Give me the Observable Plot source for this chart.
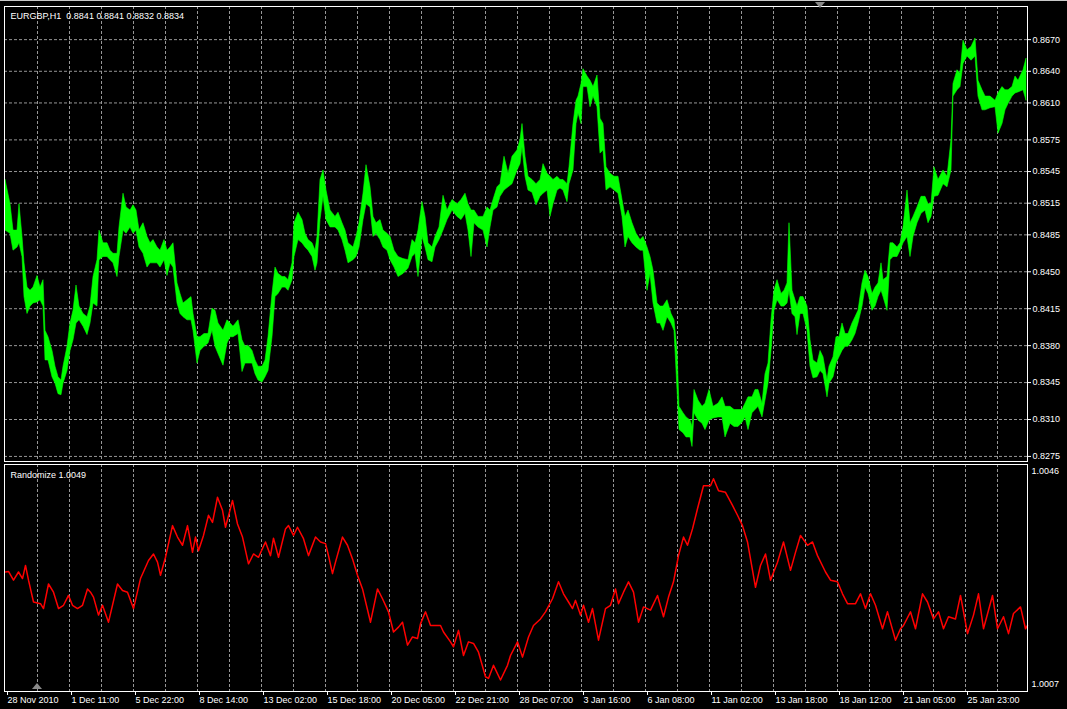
<!DOCTYPE html>
<html><head><meta charset="utf-8">
<script src="https://cdn.jsdelivr.net/npm/d3@7"></script>
<script src="https://cdn.jsdelivr.net/npm/@observablehq/plot@0.6"></script>
<style>
html,body{margin:0;padding:0;background:#000;overflow:hidden;}
#wrap{position:relative;width:1067px;height:709px;background:#000;}
#top,#bottom{position:absolute;left:0;}
#top{top:0}
#bottom{top:463px}
#topline{position:absolute;left:0;top:0;width:1067px;height:1px;background:#c8c8c8;}
.tri-down{position:absolute;left:815px;top:2px;width:0;height:0;border-left:5px solid transparent;border-right:5px solid transparent;border-top:6px solid #8a8a8a;}
.tri-up{position:absolute;left:32px;top:683px;width:0;height:0;border-left:5px solid transparent;border-right:5px solid transparent;border-bottom:6px solid #8a8a8a;}
</style></head><body>
<div id="wrap"><div id="top"></div><div id="bottom"></div><div id="topline"></div><div class="tri-down"></div><div class="tri-up"></div></div>
<script>
// ---- data ----
const priceTicks = [0.8670, 0.8640, 0.8610, 0.8575, 0.8545, 0.8515, 0.8485, 0.8450, 0.8415, 0.8380, 0.8345, 0.8310, 0.8275];
const indicatorTicks = [1.0046, 1.0007];
const timeLabels = ["28 Nov 2010","1 Dec 11:00","5 Dec 22:00","8 Dec 14:00","13 Dec 02:00","15 Dec 18:00","20 Dec 05:00","22 Dec 21:00","28 Dec 07:00","3 Jan 16:00","6 Jan 08:00","11 Jan 02:00","13 Jan 18:00","18 Jan 12:00","21 Jan 05:00","25 Jan 23:00"];
const timeBars = [0,64,128,192,256,320,384,448,512,576,640,704,768,832,896,960];
const gridBars = [32,64,96,128,160,192,224,256,288,320,352,384,416,448,480,512,544,576,608,640,672,704,736,768,800,832,864,896,928,960,992];
const chartTitle = "EURGBP,H1  0.8841 0.8841 0.8832 0.8834";
const indicatorTitle = "Randomize 1.0049";

// EURGBP H1: [bar index, high, low]
const eurgbp = [
[0,0.8537,0.8489],[5,0.8514,0.8486],[8,0.8489,0.8470],[12,0.8489,0.8473],[14,0.8514,0.8477],[17,0.8483,0.8464],
[19,0.8458,0.8426],[22,0.8435,0.8410],[25,0.8432,0.8417],[28,0.8435,0.8420],[32,0.8446,0.8421],[35,0.8435,0.8423],
[38,0.8442,0.8417],[40,0.8394,0.8366],[43,0.8388,0.8366],[47,0.8375,0.8350],[50,0.8360,0.8344],[53,0.8350,0.8334],
[56,0.8347,0.8333],[58,0.8360,0.8344],[62,0.8379,0.8356],[65,0.8401,0.8375],[68,0.8413,0.8385],[71,0.8437,0.8401],
[74,0.8417,0.8404],[78,0.8410,0.8398],[82,0.8407,0.8390],[85,0.8417,0.8401],[88,0.8445,0.8420],[92,0.8461,0.8417],
[94,0.8489,0.8461],[98,0.8477,0.8464],[102,0.8477,0.8464],[105,0.8470,0.8461],[108,0.8467,0.8458],[112,0.8467,0.8445],
[114,0.8492,0.8464],[118,0.8524,0.8489],[121,0.8511,0.8486],[125,0.8508,0.8492],[128,0.8513,0.8486],[131,0.8508,0.8489],
[134,0.8489,0.8473],[138,0.8496,0.8467],[142,0.8483,0.8454],[145,0.8477,0.8458],[148,0.8480,0.8458],[152,0.8473,0.8458],
[155,0.8470,0.8454],[159,0.8480,0.8461],[162,0.8470,0.8446],[165,0.8473,0.8458],[168,0.8477,0.8454],[172,0.8439,0.8420],
[175,0.8429,0.8410],[178,0.8420,0.8407],[182,0.8423,0.8404],[186,0.8426,0.8404],[188,0.8410,0.8394],[192,0.8388,0.8363],
[195,0.8388,0.8375],[199,0.8391,0.8379],[203,0.8391,0.8382],[207,0.8415,0.8394],[210,0.8413,0.8379],[213,0.8401,0.8372],
[218,0.8394,0.8361],[222,0.8404,0.8382],[225,0.8401,0.8388],[228,0.8398,0.8388],[233,0.8404,0.8391],[237,0.8385,0.8355],
[240,0.8379,0.8363],[243,0.8380,0.8363],[247,0.8375,0.8363],[250,0.8366,0.8353],[253,0.8360,0.8347],[257,0.8360,0.8345],
[260,0.8366,0.8350],[263,0.8388,0.8356],[267,0.8429,0.8388],[270,0.8454,0.8426],[273,0.8448,0.8429],[277,0.8445,0.8435],
[280,0.8445,0.8435],[283,0.8442,0.8432],[287,0.8458,0.8442],[289,0.8496,0.8464],[293,0.8506,0.8480],[297,0.8499,0.8477],
[300,0.8486,0.8473],[303,0.8480,0.8470],[307,0.8477,0.8464],[310,0.8470,0.8451],[312,0.8483,0.8458],[315,0.8537,0.8499],
[318,0.8546,0.8521],[321,0.8527,0.8499],[325,0.8508,0.8492],[330,0.8502,0.8492],[333,0.8506,0.8489],[337,0.8496,0.8480],
[340,0.8489,0.8470],[343,0.8477,0.8458],[348,0.8473,0.8461],[351,0.8483,0.8464],[354,0.8496,0.8473],[358,0.8524,0.8499],
[361,0.8551,0.8514],[365,0.8530,0.8511],[368,0.8502,0.8483],[371,0.8496,0.8486],[375,0.8499,0.8480],[378,0.8489,0.8473],
[382,0.8486,0.8470],[385,0.8483,0.8461],[389,0.8470,0.8454],[393,0.8464,0.8445],[398,0.8462,0.8448],[403,0.8461,0.8453],
[407,0.8480,0.8464],[410,0.8477,0.8467],[413,0.8489,0.8445],[417,0.8516,0.8483],[420,0.8502,0.8473],[423,0.8477,0.8461],
[427,0.8473,0.8459],[430,0.8483,0.8473],[434,0.8492,0.8480],[438,0.8522,0.8489],[442,0.8508,0.8499],[447,0.8518,0.8508],
[452,0.8514,0.8502],[456,0.8518,0.8499],[460,0.8524,0.8505],[463,0.8514,0.8489],[466,0.8508,0.8464],[469,0.8508,0.8496],
[473,0.8502,0.8492],[478,0.8502,0.8489],[482,0.8511,0.8473],[485,0.8508,0.8492],[488,0.8518,0.8508],[492,0.8530,0.8511],
[495,0.8533,0.8521],[499,0.8559,0.8527],[503,0.8543,0.8530],[507,0.8559,0.8533],[512,0.8565,0.8546],[515,0.8575,0.8552],
[517,0.8590,0.8568],[520,0.8559,0.8540],[523,0.8540,0.8527],[527,0.8537,0.8525],[531,0.8533,0.8513],[535,0.8537,0.8521],
[538,0.8552,0.8524],[542,0.8543,0.8527],[545,0.8540,0.8502],[548,0.8537,0.8514],[552,0.8540,0.8527],[555,0.8537,0.8529],
[558,0.8537,0.8527],[562,0.8533,0.8516],[564,0.8549,0.8533],[568,0.8590,0.8546],[571,0.8612,0.8590],[573,0.8616,0.8600],
[576,0.8628,0.8590],[578,0.8642,0.8625],[582,0.8635,0.8625],[585,0.8631,0.8606],[588,0.8625,0.8616],[592,0.8636,0.8606],
[595,0.8595,0.8562],[598,0.8590,0.8565],[601,0.8549,0.8527],[605,0.8543,0.8530],[609,0.8540,0.8527],[613,0.8540,0.8524],
[617,0.8518,0.8502],[620,0.8502,0.8473],[623,0.8508,0.8483],[627,0.8496,0.8477],[631,0.8486,0.8473],[635,0.8480,0.8470],
[638,0.8483,0.8470],[642,0.8473,0.8432],[645,0.8464,0.8448],[648,0.8451,0.8420],[652,0.8420,0.8401],[655,0.8417,0.8401],
[658,0.8417,0.8394],[662,0.8423,0.8407],[666,0.8410,0.8401],[669,0.8404,0.8394],[672,0.8375,0.8338],[674,0.8322,0.8300],
[678,0.8316,0.8297],[681,0.8312,0.8293],[685,0.8309,0.8293],[687,0.8303,0.8284],[689,0.8338,0.8316],[693,0.8328,0.8309],
[697,0.8322,0.8306],[700,0.8325,0.8300],[704,0.8338,0.8309],[708,0.8322,0.8311],[713,0.8325,0.8312],[717,0.8331,0.8312],
[720,0.8322,0.8293],[725,0.8322,0.8306],[729,0.8319,0.8303],[733,0.8319,0.8303],[737,0.8319,0.8307],[740,0.8325,0.8312],
[743,0.8331,0.8300],[747,0.8331,0.8316],[750,0.8338,0.8319],[753,0.8338,0.8322],[757,0.8325,0.8312],[760,0.8353,0.8328],
[763,0.8363,0.8344],[766,0.8404,0.8375],[769,0.8432,0.8413],[772,0.8442,0.8423],[776,0.8429,0.8417],[779,0.8432,0.8417],
[782,0.8439,0.8420],[784,0.8496,0.8432],[787,0.8432,0.8410],[790,0.8423,0.8407],[792,0.8417,0.8390],[795,0.8426,0.8410],
[798,0.8426,0.8410],[802,0.8417,0.8394],[805,0.8385,0.8360],[808,0.8366,0.8349],[812,0.8363,0.8350],[815,0.8375,0.8356],
[818,0.8369,0.8353],[822,0.8347,0.8331],[824,0.8360,0.8344],[828,0.8369,0.8350],[831,0.8388,0.8363],[834,0.8388,0.8369],
[837,0.8401,0.8375],[840,0.8391,0.8379],[843,0.8391,0.8379],[847,0.8401,0.8385],[850,0.8407,0.8391],[853,0.8413,0.8401],
[857,0.8439,0.8417],[860,0.8451,0.8435],[863,0.8445,0.8429],[867,0.8429,0.8413],[870,0.8435,0.8417],[873,0.8439,0.8426],
[876,0.8458,0.8432],[878,0.8442,0.8426],[882,0.8445,0.8413],[885,0.8477,0.8461],[888,0.8477,0.8464],[892,0.8473,0.8464],
[895,0.8477,0.8470],[898,0.8492,0.8477],[902,0.8527,0.8483],[905,0.8496,0.8464],[908,0.8502,0.8483],[912,0.8511,0.8496],
[916,0.8521,0.8505],[920,0.8521,0.8508],[923,0.8514,0.8496],[926,0.8514,0.8502],[929,0.8549,0.8521],[933,0.8537,0.8522],
[938,0.8546,0.8533],[942,0.8540,0.8530],[946,0.8575,0.8546],[948,0.8628,0.8616],[952,0.8641,0.8622],[955,0.8638,0.8625],
[958,0.8669,0.8647],[962,0.8660,0.8654],[966,0.8663,0.8650],[970,0.8671,0.8654],[973,0.8631,0.8616],[977,0.8622,0.8603],
[980,0.8616,0.8603],[985,0.8616,0.8605],[990,0.8612,0.8606],[993,0.8619,0.8581],[997,0.8625,0.8590],[1000,0.8622,0.8603],
[1003,0.8622,0.8609],[1007,0.8625,0.8616],[1010,0.8635,0.8619],[1013,0.8631,0.8620],[1018,0.8641,0.8622],[1021,0.8652,0.8612]
];

// Randomize indicator: [bar index, value]
const randomize = [
[0,1.00276],[3,1.00277],[8,1.00261],[13,1.00276],[17,1.00264],[20,1.00288],[23,1.00261],[28,1.00221],[35,1.00218],[38,1.00209],
[43,1.00254],[48,1.00239],[53,1.00209],[58,1.00215],[63,1.00233],[67,1.00215],[72,1.00209],[77,1.00215],[82,1.00245],[85,1.00239],
[88,1.00230],[93,1.00197],[97,1.00215],[103,1.00184],[112,1.00254],[117,1.00242],[122,1.00239],[128,1.00209],[135,1.00264],[143,1.00297],
[148,1.00309],[152,1.00294],[155,1.00270],[160,1.00303],[167,1.00361],[172,1.00340],[177,1.00325],[182,1.00361],[187,1.00312],[190,1.00340],
[193,1.00315],[198,1.00343],[203,1.00380],[207,1.00367],[212,1.00413],[217,1.00389],[220,1.00358],[227,1.00407],[232,1.00364],[237,1.00340],
[243,1.00291],[248,1.00309],[253,1.00303],[260,1.00331],[265,1.00306],[268,1.00338],[273,1.00303],[280,1.00355],[283,1.00361],[288,1.00343],
[292,1.00358],[298,1.00337],[303,1.00306],[310,1.00340],[315,1.00331],[320,1.00328],[323,1.00306],[327,1.00273],[330,1.00294],[337,1.00340],
[342,1.00325],[347,1.00300],[352,1.00270],[357,1.00245],[365,1.00184],[372,1.00245],[377,1.00227],[383,1.00203],[388,1.00166],[393,1.00175],
[397,1.00184],[402,1.00142],[407,1.00157],[412,1.00154],[415,1.00181],[420,1.00203],[425,1.00178],[435,1.00178],[438,1.00166],[445,1.00148],
[448,1.00139],[453,1.00169],[458,1.00123],[463,1.00148],[468,1.00145],[473,1.00129],[480,1.00084],[483,1.00081],[488,1.00105],[495,1.00078],
[502,1.00105],[505,1.00123],[512,1.00148],[517,1.00120],[523,1.00157],[528,1.00178],[535,1.00190],[540,1.00203],[547,1.00227],[553,1.00258],
[558,1.00236],[563,1.00221],[567,1.00209],[570,1.00224],[575,1.00197],[578,1.00215],[583,1.00184],[587,1.00209],[593,1.00151],[600,1.00209],
[605,1.00215],[610,1.00245],[613,1.00218],[618,1.00239],[623,1.00258],[628,1.00239],[633,1.00184],[638,1.00212],[645,1.00206],[652,1.00233],
[658,1.00194],[663,1.00230],[668,1.00258],[673,1.00306],[678,1.00340],[682,1.00325],[687,1.00355],[692,1.00392],[698,1.00434],[705,1.00434],
[708,1.00447],[713,1.00425],[720,1.00422],[727,1.00398],[732,1.00380],[737,1.00361],[742,1.00331],[750,1.00248],[755,1.00288],[760,1.00309],
[765,1.00261],[772,1.00294],[778,1.00331],[785,1.00279],[790,1.00312],[795,1.00343],[802,1.00325],[807,1.00331],[812,1.00306],[820,1.00276],
[825,1.00261],[832,1.00258],[837,1.00236],[842,1.00218],[850,1.00218],[855,1.00236],[860,1.00209],[865,1.00236],[870,1.00215],[877,1.00172],
[882,1.00203],[890,1.00151],[895,1.00172],[898,1.00178],[905,1.00203],[910,1.00172],[917,1.00236],[922,1.00221],[928,1.00190],[933,1.00203],
[938,1.00172],[943,1.00194],[950,1.00190],[955,1.00233],[962,1.00163],[968,1.00197],[973,1.00236],[978,1.00172],[987,1.00233],[992,1.00172],
[998,1.00194],[1003,1.00163],[1008,1.00200],[1015,1.00212],[1020,1.00172],[1022,1.00178]
];

// ---- drawing ----
const FONT = "'Liberation Sans', Arial, sans-serif";
const baseStyle = {background: "#000", color: "#ffffff", fontFamily: FONT, fontSize: "9px", overflow: "visible"};
const gridColor = "#969696";
const dash = "3,2";
const xDomain = [-1, 1022];

const upper = Plot.plot({
  width: 1067, height: 463,
  marginLeft: 4, marginRight: 40, marginTop: 6, marginBottom: 2,
  style: baseStyle,
  x: {domain: xDomain, axis: null},
  y: {domain: [0.82702, 0.87014]},
  marks: [
    Plot.ruleY(priceTicks, {stroke: gridColor, strokeDasharray: dash}),
    Plot.ruleX(gridBars, {stroke: gridColor, strokeDasharray: dash}),
    Plot.areaY(eurgbp, {x: d => d[0], y1: d => d[2], y2: d => d[1], fill: "#00ff00", stroke: "#00ff00", strokeWidth: 0.6}),
    Plot.axisY(priceTicks, {anchor: "right", tickSize: 3, tickPadding: 2, tickFormat: d => d.toFixed(4), label: null}),
    Plot.text([chartTitle], {frameAnchor: "top-left", textAnchor: "start", lineAnchor: "top", dx: 6, dy: 6, fill: "#ffffff"}),
    Plot.frame({stroke: "#ffffff"})
  ]
});
document.getElementById("top").appendChild(upper);

const lower = Plot.plot({
  width: 1067, height: 246,
  marginLeft: 4, marginRight: 40, marginTop: 1, marginBottom: 18,
  style: baseStyle,
  x: {domain: xDomain},
  y: {domain: [1.00057, 1.00473]},
  marks: [
    Plot.ruleX(gridBars, {stroke: gridColor, strokeDasharray: dash}),
    Plot.line(randomize, {x: d => d[0], y: d => d[1], stroke: "#ff0000", strokeWidth: 1.5}),
    Plot.axisY(indicatorTicks, {anchor: "right", tickSize: 0, tickPadding: 4, tickFormat: d => d.toFixed(4), label: null}),
    Plot.axisX(timeBars, {anchor: "bottom", tickSize: 4, tickPadding: 1, textAnchor: "start", dx: 2,
      tickFormat: d => timeLabels[timeBars.indexOf(d)], label: null}),
    Plot.text([indicatorTitle], {frameAnchor: "top-left", textAnchor: "start", lineAnchor: "top", dx: 6, dy: 7, fill: "#ffffff"}),
    Plot.frame({stroke: "#ffffff"})
  ]
});
document.getElementById("bottom").appendChild(lower);
</script>
</body></html>
